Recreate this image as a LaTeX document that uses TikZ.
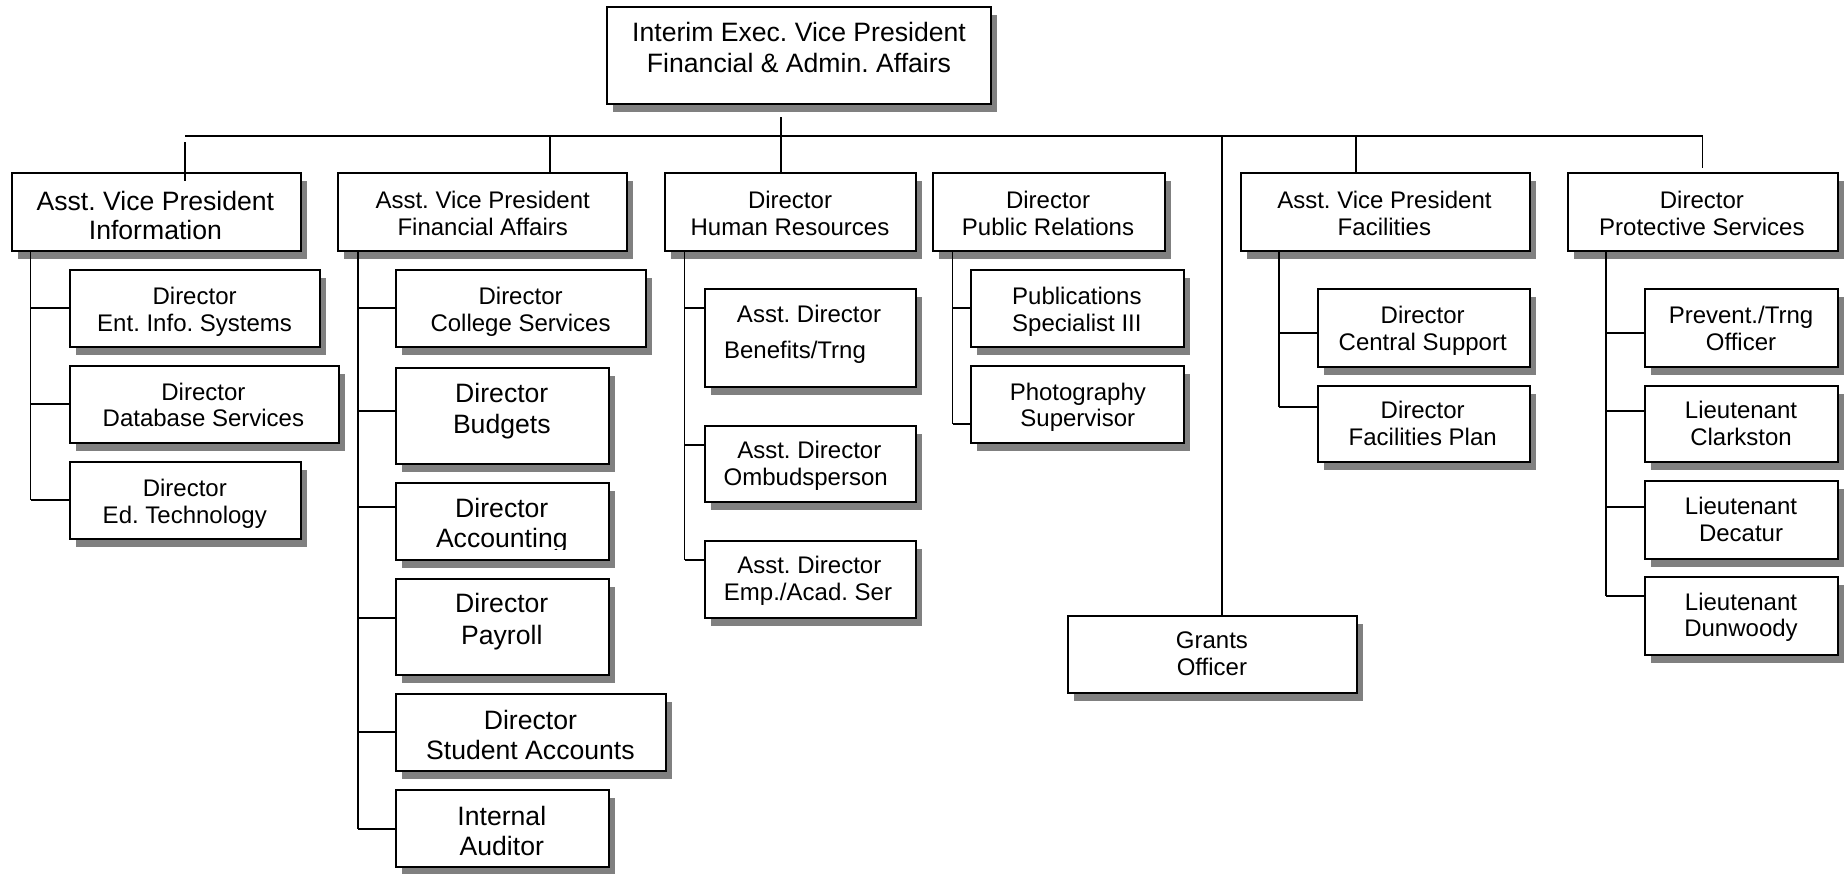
\documentclass[tikz,border=0pt]{standalone}
\usepackage{fontspec}
\setmainfont{Liberation Sans}
\usetikzlibrary{shadows}
\frenchspacing
\newcommand\obox[5]{%
  \pgfmathsetmacro\obw{(#4-#2)*0.5}%
  \pgfmathsetmacro\obh{(#5-#3)*0.5}%
  \node[bx, minimum width=\obw pt, minimum height=\obh pt] (#1) at ({(#2+#4)/2},{(#3+#5)/2}) {};%
}
\begin{document}
\begin{tikzpicture}[x=0.5pt,y=-0.5pt,
  bx/.style={draw=black, line width=1pt, fill=white, inner sep=0pt,
    drop shadow={shadow xshift=3pt, shadow yshift=-4pt, fill=black!50, opacity=1}},
  sm/.style={anchor=base, inner sep=0pt, font=\fontsize{12}{14}\selectfont},
  lg/.style={anchor=base, inner sep=0pt, font=\fontsize{13.3}{16}\selectfont},
  ln/.style={line width=0.75pt},
  bus/.style={line width=0.9pt}]
\useasboundingbox (0,0) rectangle (1846,873);

% ---------- boxes ----------
\obox{top}{607}{7}{991}{104}
\obox{info}{12}{173}{301}{251}
\obox{fin}{338}{173}{627}{251}
\obox{hr}{665}{173}{916}{251}
\obox{pr}{933}{173}{1165}{251}
\obox{fac}{1241}{173}{1530}{251}
\obox{prot}{1567.5}{173}{1837.5}{251}

\obox{ent}{69.6}{270}{319.6}{347}
\obox{db}{69.6}{366}{339}{443}
\obox{ed}{69.6}{462}{300.7}{539}

\obox{coll}{396}{270}{646}{347}
\obox{budg}{396}{368}{608.5}{464}
\obox{acct}{396}{483}{608.5}{560}
\obox{pay}{396}{579}{608.5}{675}
\obox{stud}{396}{694}{666}{771}
\obox{aud}{396}{790}{608.5}{867}

\obox{ben}{704.6}{289}{916}{387}
\obox{omb}{704.6}{426}{916}{502}
\obox{emp}{704.6}{541}{916}{618}

\obox{pub}{971}{270}{1184}{347}
\obox{photo}{971}{366}{1184}{443}

\obox{cent}{1317.5}{289}{1530}{367}
\obox{plan}{1317.5}{386}{1530}{462}

\obox{prev}{1644.7}{289}{1837.5}{367}
\obox{clark}{1644.7}{386}{1837.5}{462}
\obox{dec}{1644.7}{481}{1837.5}{559}
\obox{dun}{1644.7}{577}{1837.5}{655}

\obox{grants}{1068}{616}{1357}{693}

% ---------- connectors ----------
\coordinate (busL) at (185,136);
\coordinate (busR) at (1702.5,136);
\draw[bus] (busL) -- (busR);
\coordinate (topdrop) at (781,117);
\draw[ln] (topdrop) -- (topdrop |- hr.north);
\coordinate (infoA) at (185,142);
\coordinate (infoB) at (185,181);
\draw[ln] (infoA) -- (infoB);
\coordinate (finT) at (550,136);
\draw[ln] (finT) -- (finT |- fin.north);
\coordinate (grT) at (1222,136);
\draw[ln] (grT) -- (grT |- grants.north);
\coordinate (facT) at (1356,136);
\draw[ln] (facT) -- (facT |- fac.north);
\coordinate (protE) at (1702.5,168);
\draw[ln] (busR) -- (protE);

% information
\coordinate (infoTr) at (30.7,251);
\draw[ln] (infoTr) -- (30.7,500);
\draw[ln] (30.7,308) -- (ent.west |- 0,308);
\draw[ln] (30.7,404) -- (db.west |- 0,404);
\draw[ln] (30.7,500) -- (ed.west |- 0,500);
% financial
\coordinate (finTr) at (358,251);
\draw[ln] (finTr) -- (358,829);
\draw[ln] (358,308) -- (coll.west |- 0,308);
\draw[ln] (358,411) -- (budg.west |- 0,411);
\draw[ln] (358,507) -- (acct.west |- 0,507);
\draw[ln] (358,618) -- (pay.west |- 0,618);
\draw[ln] (358,732) -- (stud.west |- 0,732);
\draw[ln] (358,829) -- (aud.west |- 0,829);
% human resources
\coordinate (hrTr) at (684.5,251);
\draw[ln] (hrTr) -- (684.5,560);
\draw[ln] (684.5,308) -- (ben.west |- 0,308);
\draw[ln] (684.5,445) -- (omb.west |- 0,445);
\draw[ln] (684.5,560) -- (emp.west |- 0,560);
% public relations
\coordinate (prTr) at (952.5,251);
\draw[ln] (prTr) -- (952.5,424);
\draw[ln] (952.5,308) -- (pub.west |- 0,308);
\draw[ln] (952.5,424) -- (photo.west |- 0,424);
% facilities
\coordinate (facTr) at (1279,251);
\draw[ln] (facTr) -- (1279,407);
\draw[ln] (1279,333) -- (cent.west |- 0,333);
\draw[ln] (1279,407) -- (plan.west |- 0,407);
% protective
\coordinate (protTr) at (1605.8,251);
\draw[ln] (protTr) -- (1605.8,596);
\draw[ln] (1605.8,333) -- (prev.west |- 0,333);
\draw[ln] (1605.8,411) -- (clark.west |- 0,411);
\draw[ln] (1605.8,507) -- (dec.west |- 0,507);
\draw[ln] (1605.8,596) -- (dun.west |- 0,596);

% ---------- texts ----------
\node[lg] (top1) at (799,41.7) {Interim Exec. Vice President};
\node[lg] (top2) at (799,72.7) {Financial \& Admin. Affairs};

\node[lg] (info1) at (155.4,210) {Asst. Vice President};
\node[lg] (info2) at (155.4,239) {Information};
\node[sm] (fin1) at (482.7,208.3) {Asst. Vice President};
\node[sm] (fin2) at (482.7,235) {Financial Affairs};
\node[sm] (hr1) at (790,208.3) {Director};
\node[sm] (hr2) at (790,235) {Human Resources};
\node[sm] (pr1) at (1048,208.3) {Director};
\node[sm] (pr2) at (1048,235) {Public Relations};
\node[sm] (fac1) at (1384.4,208.3) {Asst. Vice President};
\node[sm] (fac2) at (1384.4,235) {Facilities};
\node[sm] (prot1) at (1701.9,208.3) {Director};
\node[sm] (prot2) at (1701.9,235) {Protective Services};

\node[sm] (ent1) at (194.6,304) {Director};
\node[sm] (ent2) at (194.6,331) {Ent. Info. Systems};
\node[sm] (db1) at (203.4,400) {Director};
\node[sm] (db2) at (203.4,426.7) {Database Services};
\node[sm] (ed1) at (184.8,496) {Director};
\node[sm] (ed2) at (184.8,523.3) {Ed. Technology};

\node[sm] (coll1) at (520.6,304) {Director};
\node[sm] (coll2) at (520.6,331) {College Services};
\node[lg] (budg1) at (501.8,402.3) {Director};
\node[lg] (budg2) at (501.8,433) {Budgets};
\node[lg] (acct1) at (501.8,517.7) {Director};
\begin{scope}
\clip (396,483) rectangle (608.5,549);
\node[lg] (acct2) at (501.8,547.7) {Accounting};
\end{scope}
\node[lg] (pay1) at (501.8,612.7) {Director};
\node[lg] (pay2) at (501.8,644.3) {Payroll};
\node[lg] (stud1) at (530.4,729.3) {Director};
\node[lg] (stud2) at (530.4,759.3) {Student Accounts};
\node[lg] (aud1) at (501.8,825.3) {Internal};
\node[lg] (aud2) at (501.8,855) {Auditor};

\node[sm] (ben1) at (809,322.7) {Asst. Director};
\node[sm] (ben2) at (795,358.3) {Benefits/Trng};
\node[sm] (omb1) at (809.3,458.7) {Asst. Director};
\node[sm] (omb2) at (805.7,485.3) {Ombudsperson};
\node[sm] (emp1) at (809.3,573.7) {Asst. Director};
\node[sm] (emp2) at (808,600.3) {Emp./Acad. Ser};

\node[sm] (pub1) at (1076.9,304) {Publications};
\node[sm] (pub2) at (1076.9,331) {Specialist III};
\node[sm] (photo1) at (1077.8,400) {Photography};
\node[sm] (photo2) at (1077.8,426.7) {Supervisor};

\node[sm] (cent1) at (1422.7,323.3) {Director};
\node[sm] (cent2) at (1422.7,350) {Central Support};
\node[sm] (plan1) at (1422.7,418.3) {Director};
\node[sm] (plan2) at (1422.7,445) {Facilities Plan};

\node[sm] (prev1) at (1741,323.3) {Prevent./Trng};
\node[sm] (prev2) at (1741,350) {Officer};
\node[sm] (clark1) at (1741,418.3) {Lieutenant};
\node[sm] (clark2) at (1741,445) {Clarkston};
\node[sm] (dec1) at (1741,514.3) {Lieutenant};
\node[sm] (dec2) at (1741,541) {Decatur};
\node[sm] (dun1) at (1741,610) {Lieutenant};
\node[sm] (dun2) at (1741,636.7) {Dunwoody};

\node[sm] (gr1) at (1211.9,648.3) {Grants};
\node[sm] (gr2) at (1211.9,675.3) {Officer};
\end{tikzpicture}
\end{document}
